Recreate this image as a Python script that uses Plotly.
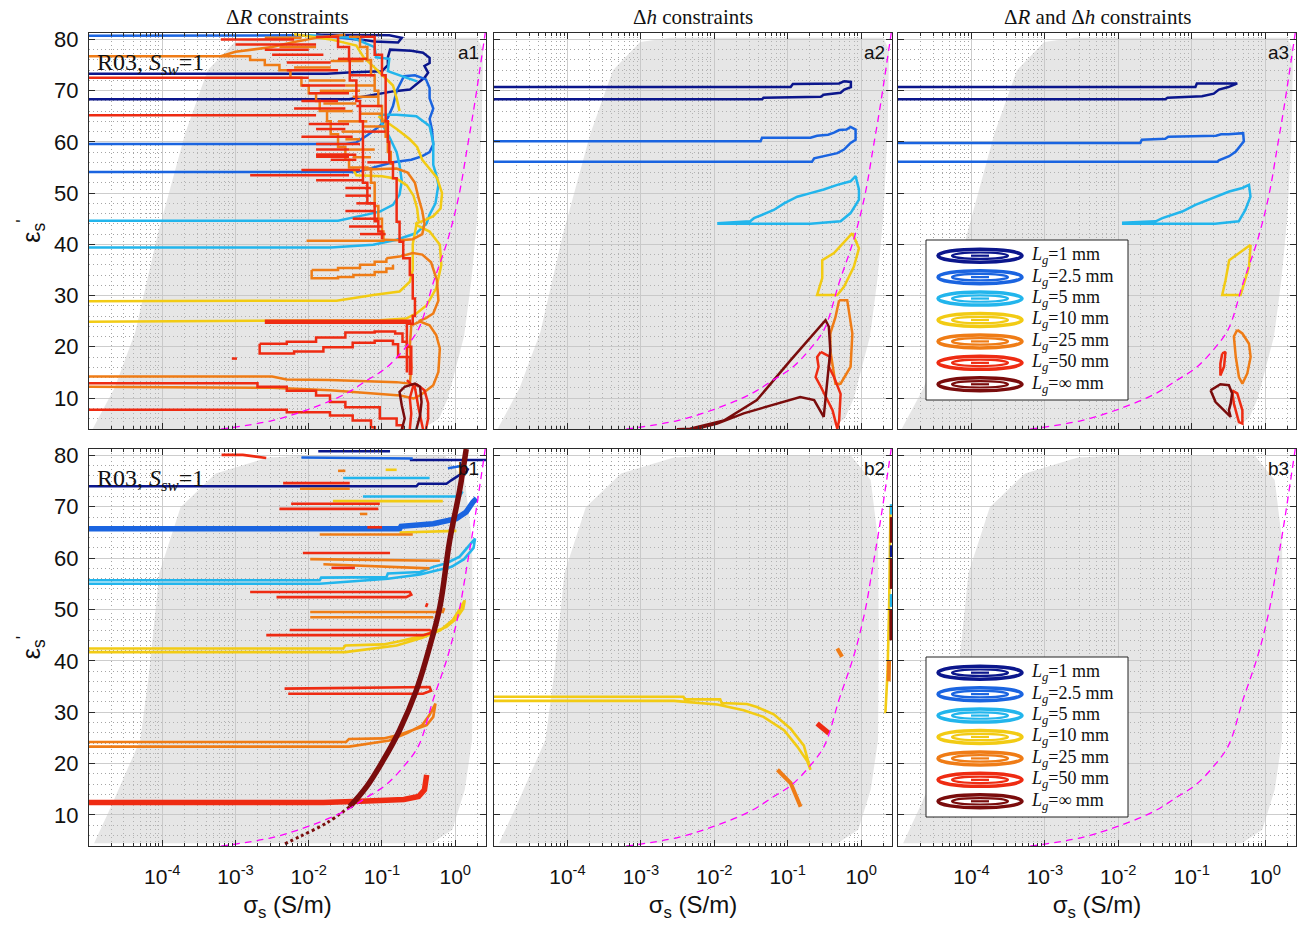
import plotly.graph_objects as go

# ---------------- axes / general values ----------------
X_LOG_RANGE = [-5.0, 0.42]
Y_RANGE = [3.95, 81.25]
XTICK_VALS = [1e-4, 1e-3, 1e-2, 1e-1, 1.0]
XTICK_TEXT = ["10<sup>-4</sup>", "10<sup>-3</sup>", "10<sup>-2</sup>", "10<sup>-1</sup>", "10<sup>0</sup>"]
YTICK_VALS = [10, 20, 30, 40, 50, 60, 70, 80]
COL_TITLES = ["Δ<i>R</i> constraints", "Δ<i>h</i> constraints", "Δ<i>R</i> and Δ<i>h</i> constraints"]
PANEL_TAGS = ["a1", "a2", "a3", "b1", "b2", "b3"]

C_L1 = "#0b168c"
C_L2P5 = "#1a64e0"
C_L5 = "#22b5ec"
C_L10 = "#f2cb14"
C_L25 = "#ef7c16"
C_L50 = "#ee2b12"
C_LINF = "#7a0c0c"
SERIES_COLORS = [C_L1, C_L2P5, C_L5, C_L10, C_L25, C_L50, C_LINF]
LEGEND_LABELS = ["1", "2.5", "5", "10", "25", "50", "∞"]

# ---------------- gray admissible region (log10 sigma, eps) ----------------
GRAY_TOP_LOG = [-4.95, -4.65, -4.37, -4.06, -3.69, -3.38, -3.01, -2.6, 0.30, 0.38, 0.36, 0.30, 0.22, 0.12, 0.01, -0.10, -0.22, -0.45]
GRAY_TOP_EPS = [3.95, 12.0, 22.8, 42.0, 61.5, 74.0, 79.5, 80.3, 80.3, 78.0, 62.0, 45.0, 33.0, 22.0, 16.0, 10.0, 6.0, 3.95]
GRAY_BOT_LOG = [-4.93, -4.70, -4.30, -4.18, -4.04, -3.75, -3.27, -2.55, -2.0, -0.14, 0.13, 0.23, 0.24, 0.23, 0.13, -0.04, -0.32]
GRAY_BOT_EPS = [4.5, 11.6, 24.6, 37.6, 57.1, 69.9, 76.5, 79.6, 80.0, 80.0, 75.2, 63.5, 44.0, 24.6, 14.9, 7.1, 4.5]

# ---------------- magenta dashed curve ----------------
MAGENTA_LOG = [-3.2, -2.5, -2.0, -1.5, -1.2, -0.95, -0.7, -0.5, -0.3, -0.1, 0.05, 0.16, 0.26, 0.35, 0.41]
MAGENTA_EPS = [3.9, 5.6, 7.8, 10.8, 13.5, 15.8, 19.5, 23.5, 32.5, 41.0, 49.5, 58.5, 67.0, 75.5, 81.3]

# ---------------- panel a1 (Delta R) ----------------
A1_L1 = [
    [(-5, 73.3), (-1.75, 73.3), (-1.4, 73.6), (-1.0, 73.8), (-0.92, 75.0), (-0.92, 76.5), (-0.89, 78.0), (-0.6, 77.8),
     (-0.44, 77.4), (-0.35, 76.4), (-0.35, 75.4), (-0.42, 74.8), (-0.37, 73.5), (-0.42, 72.5), (-0.51, 71.5),
     (-0.62, 70.2), (-0.83, 69.9), (-0.94, 69.6), (-1.2, 69.0), (-1.45, 68.3), (-5, 68.3)],
    [(-1.9, 80.9), (-0.9, 80.8), (-0.73, 80.3), (-0.78, 79.4), (-1.1, 79.6), (-1.4, 80.2), (-1.9, 80.9)],
]
A1_L2P5 = [
    [(-5, 80.7), (-3.3, 80.7), (-2.2, 80.8), (-1.6, 80.4), (-1.25, 79.8)],
    [(-5, 59.6), (-1.5, 59.6), (-1.35, 59.9), (-1.2, 61.3), (-1.03, 63.1), (-0.92, 64.7), (-0.85, 67.0), (-0.8, 70.0),
     (-0.7, 72.8), (-0.55, 73.0), (-0.4, 72.2), (-0.35, 70.5), (-0.35, 68.5), (-0.3, 66.5), (-0.35, 64.5),
     (-0.32, 62.5), (-0.30, 59.5), (-0.35, 58.0), (-0.45, 57.2), (-0.6, 56.5), (-0.85, 56.0), (-1.1, 55.0),
     (-1.35, 54.1), (-5, 54.1)],
]
A1_L5 = [
    [(-5, 44.6), (-1.6, 44.6), (-1.21, 45.8), (-1.03, 46.4), (-0.85, 47.7), (-0.76, 49.7), (-0.73, 52.3), (-0.76, 55.5),
     (-0.8, 58.0), (-0.9, 61.0), (-1.0, 63.5), (-1.03, 65.3), (-0.8, 65.3), (-0.53, 65.0), (-0.35, 63.1),
     (-0.30, 59.8), (-0.30, 55.5), (-0.26, 53.6), (-0.23, 51.6), (-0.27, 48.0), (-0.35, 45.8), (-0.39, 44.1),
     (-0.53, 42.2), (-0.80, 40.9), (-1.12, 39.9), (-1.7, 39.4), (-5, 39.4)],
    [(-2.0, 80.8), (-1.4, 80.3), (-1.1, 78.5), (-1.08, 76.5), (-0.9, 76.2), (-0.92, 73.8), (-0.66, 72.5), (-0.52, 71.8)],
]
A1_L10 = [
    [(-5, 24.9), (-1.03, 25.2), (-0.67, 25.5), (-0.53, 26.5), (-0.39, 28.1), (-0.26, 31.4), (-0.19, 36.0), (-0.21, 39.9),
     (-0.35, 42.5), (-0.53, 43.8), (-0.58, 40.0), (-0.58, 35.0), (-0.62, 32.7), (-0.76, 30.8), (-1.12, 30.1),
     (-1.62, 29.0), (-5, 28.9)],
    [(-1.05, 65.0), (-0.8, 62.5), (-0.62, 60.5), (-0.52, 59.0), (-0.45, 56.5), (-0.36, 55.0), (-0.25, 53.0),
     (-0.18, 50.0), (-0.2, 47.0), (-0.3, 45.5), (-0.45, 44.5), (-0.55, 44.0)],
    [(-1.4, 54.8), (-1.35, 53.5), (-1.0, 53.3), (-0.8, 52.8), (-0.66, 51.5), (-0.57, 49.5), (-0.52, 47.0), (-0.5, 44.5)],
    [(-2.2, 81.0), (-1.7, 80.0), (-1.35, 78.8), (-1.25, 76.5), (-1.1, 74.5), (-0.95, 72.5), (-0.85, 71.0),
     (-0.8, 68.5), (-0.76, 66.0)],
]
A1_L25_CURVES = [
    [(-5, 76.7), (-3.2, 76.7), (-3.0, 77.6), (-2.5, 78.5), (-2.2, 79.5), (-1.9, 80.3), (-1.5, 80.9)],
    [(-1.25, 54.6), (-0.8, 54.8), (-0.65, 54.0), (-0.55, 52.0), (-0.5, 49.0), (-0.45, 46.5), (-0.42, 44.0),
     (-0.45, 42.0), (-0.58, 41.0), (-0.75, 40.8), (-0.98, 40.9)],
    [(-0.94, 37.3), (-0.76, 37.6), (-0.58, 38.3), (-0.45, 38.0), (-0.33, 36.5), (-0.25, 33.0), (-0.23, 29.0),
     (-0.30, 26.5), (-0.40, 25.6), (-0.5, 25.0)],
    [(-5, 14.2), (-2.5, 14.2), (-2.3, 13.6), (-1.71, 13.5), (-0.8, 13.1), (-0.62, 12.8), (-0.60, 16.0), (-0.62, 20.0),
     (-0.60, 24.2), (-0.48, 24.9), (-0.35, 24.2), (-0.26, 22.3), (-0.21, 19.7), (-0.23, 15.1), (-0.30, 12.5),
     (-0.48, 10.5), (-0.57, 9.9), (-0.75, 10.5), (-1.71, 11.5), (-2.5, 12.0), (-5, 12.2)],
]
A1_L25_STEPS = [
    [(-3.2, 76.7), (-2.8, 76.0), (-2.6, 75.0), (-2.4, 74.0), (-2.25, 72.5), (-2.1, 71.0), (-2.0, 69.5), (-1.9, 68.0),
     (-1.85, 66.0), (-1.75, 64.0), (-1.7, 61.5), (-1.6, 59.0), (-1.5, 56.5), (-1.45, 55.0), (-1.2, 54.8),
     (-1.15, 52.0), (-1.1, 50.0), (-1.1, 47.5), (-1.05, 45.0), (-1.0, 42.5), (-0.98, 40.9)],
    [(-2.03, 40.7), (-0.98, 40.9)],
    [(-1.96, 35.0), (-1.6, 35.4), (-1.3, 36.0), (-1.1, 36.6), (-0.94, 37.3)],
    [(-1.96, 35.0), (-1.96, 33.4), (-1.6, 33.6), (-1.39, 34.0), (-1.1, 34.6), (-0.94, 35.3), (-0.85, 36.0)],
    [(-1.45, 80.5), (-1.3, 78.5), (-1.2, 76.0), (-1.15, 73.0), (-1.1, 70.0), (-1.05, 67.0), (-1.0, 64.0),
     (-0.95, 61.0), (-0.92, 58.0), (-0.88, 55.5)],
]
A1_L25_STRIPES = [(74.5, -2.2, -1.7), (72.0, -2.0, -1.5), (70.0, -1.85, -1.3), (67.5, -1.8, -1.35), (66.0, -1.75, -1.4),
                  (64.0, -1.6, -1.2), (62.0, -1.55, -1.25), (60.5, -1.5, -1.3), (58.5, -1.45, -1.1), (57.0, -1.4, -1.15),
                  (78.5, -2.4, -1.9), (80.3, -2.6, -2.1), (75.8, -1.7, -1.25), (71.0, -1.5, -1.1), (68.8, -1.4, -1.05),
                  (65.5, -1.3, -1.0), (63.0, -1.25, -0.95)]
A1_L50_STRIPES = [(80.0, -3.2, -2.2), (79.0, -3.0, -1.9), (78.0, -2.6, -2.0), (77.0, -2.5, -1.8), (75.5, -2.3, -1.7),
                  (74.0, -2.3, -1.6), (72.5, -5.0, -2.0), (71.0, -2.1, -1.5), (69.5, -2.0, -1.45), (68.0, -2.1, -1.6),
                  (66.5, -2.2, -1.5), (65.2, -5.0, -1.9), (63.5, -2.0, -1.45), (62.5, -1.9, -1.5), (61.0, -2.1, -1.4),
                  (59.6, -1.9, -1.3), (58.5, -1.9, -1.45), (57.5, -1.9, -1.35), (56.5, -1.7, -1.35), (54.5, -2.1, -1.3),
                  (53.5, -2.8, -1.45), (52.5, -1.9, -1.25), (51.0, -1.5, -1.15), (49.5, -1.5, -1.15), (48.0, -1.35, -1.1),
                  (46.5, -1.5, -1.1), (45.0, -1.4, -1.05), (43.5, -1.45, -1.0), (42.0, -1.3, -0.95),
                  (76.2, -1.6, -1.2), (73.0, -1.45, -1.1), (67.0, -1.35, -1.0), (62.0, -1.25, -0.95), (56.0, -1.2, -0.92)]
A1_L50_STEPS = [
    [(-1.9, 80.5), (-1.6, 78.5), (-1.45, 76.0), (-1.44, 72.0), (-1.35, 68.0), (-1.3, 64.0), (-1.26, 60.0), (-1.26, 56.0),
     (-1.26, 52.0), (-1.2, 48.0), (-1.1, 44.5), (-1.05, 42.5), (-1.0, 41.0)],
    [(-1.3, 80.5), (-1.1, 77.0), (-1.0, 73.0), (-0.95, 68.0), (-0.95, 64.0), (-0.92, 60.0), (-0.9, 56.0), (-0.85, 52.9),
     (-0.80, 49.0), (-0.80, 44.4), (-0.76, 40.5), (-0.71, 37.3), (-0.62, 34.0), (-0.58, 29.4), (-0.55, 26.0),
     (-0.58, 24.5), (-0.66, 24.0), (-0.66, 20.0), (-0.6, 14.5)],
    [(-2.67, 20.6), (-2.3, 21.0), (-1.9, 21.8), (-1.5, 22.8), (-1.1, 23.0), (-0.82, 22.6), (-0.72, 21.0), (-0.66, 18.0),
     (-0.62, 14.5)],
    [(-2.67, 20.6), (-2.67, 18.7), (-2.2, 19.1), (-1.8, 19.9), (-1.4, 20.8), (-1.1, 21.2), (-0.85, 20.5), (-0.78, 18.0),
     (-0.66, 15.0)],
    [(-5, 12.9), (-3.0, 12.9), (-2.7, 12.2), (-2.3, 11.4), (-1.9, 10.5), (-1.71, 9.2), (-1.5, 8.2), (-1.03, 6.0),
     (-0.80, 4.7), (-0.72, 3.9)],
    [(-5, 7.7), (-2.6, 7.7), (-2.3, 7.2), (-1.71, 6.6), (-1.4, 5.6), (-1.15, 4.3), (-1.1, 3.9)],
    [(-3.05, 17.7), (-2.98, 17.7)],
]
A1_L50_THICK = [[(-2.6, 24.9), (-0.6, 24.9)], [(-1.9, 57.3), (-1.45, 57.3)]]
A1_L50_CURVES = [
    [(-0.62, 3.9), (-0.6, 7.0), (-0.62, 10.0), (-0.58, 12.0), (-0.52, 12.6), (-0.42, 11.5), (-0.37, 9.0), (-0.37, 6.0),
     (-0.40, 3.9)],
    [(-0.66, 13.5), (-0.55, 12.0), (-0.50, 8.0), (-0.45, 5.0), (-0.44, 3.9)],
]
A1_LINF = [[(-0.73, 3.9), (-0.69, 6.0), (-0.73, 8.6), (-0.76, 11.2), (-0.69, 12.2), (-0.55, 12.8), (-0.48, 12.2),
            (-0.46, 9.2), (-0.48, 6.6), (-0.53, 3.9)]]

# ---------------- panel a2 (Delta h) ----------------
A2_L1 = [[(-5, 70.7), (-0.96, 70.7), (-0.93, 71.3), (-0.30, 71.4), (-0.23, 71.85), (-0.14, 71.7), (-0.14, 70.7),
          (-0.23, 70.2), (-0.28, 69.6), (-0.51, 69.2), (-0.55, 68.8), (-1.33, 68.6), (-1.35, 68.3), (-5, 68.3)]]
A2_L2P5 = [[(-5, 60.1), (-1.37, 60.1), (-1.35, 60.8), (-0.69, 60.8), (-0.6, 61.2), (-0.45, 61.4), (-0.37, 61.8),
            (-0.3, 62.3), (-0.2, 62.4), (-0.144, 62.9), (-0.076, 62.4), (-0.076, 60.4), (-0.144, 59.8),
            (-0.234, 58.5), (-0.325, 57.8), (-0.51, 57.2), (-0.64, 56.8), (-0.67, 56.1), (-5, 56.1)]]
A2_L5 = [[(-1.96, 44.1), (-1.51, 44.5), (-1.46, 45.1), (-1.19, 46.7), (-1.05, 48.0), (-0.87, 49.3), (-0.69, 50.0),
          (-0.51, 50.7), (-0.325, 51.6), (-0.144, 52.3), (-0.076, 53.3), (-0.03, 50.7), (-0.03, 48.7),
          (-0.144, 46.1), (-0.28, 44.5), (-0.69, 44.0), (-1.96, 44.0)]]
A2_L10 = [[(-0.12, 42.2), (-0.03, 39.2), (-0.10, 35.6), (-0.234, 31.7), (-0.325, 30.1), (-0.60, 30.1), (-0.53, 33.4),
           (-0.53, 36.9), (-0.37, 38.3), (-0.12, 42.2)]]
A2_L25 = [[(-0.30, 29.1), (-0.19, 29.1), (-0.12, 22.6), (-0.144, 16.1), (-0.28, 12.8), (-0.35, 12.8), (-0.42, 19.3),
           (-0.42, 22.6), (-0.35, 25.8), (-0.30, 29.1)]]
A2_L50 = [[(-0.55, 19.0), (-0.42, 18.0), (-0.44, 16.1), (-0.37, 14.1), (-0.28, 10.8), (-0.30, 5.6), (-0.325, 4.0),
           (-0.39, 7.6), (-0.55, 12.2), (-0.62, 14.1), (-0.58, 16.1), (-0.60, 18.0), (-0.55, 19.0)]]
A2_LINF = [[(-2.51, 3.9), (-2.33, 4.0), (-1.87, 5.6), (-1.42, 9.6), (-0.96, 17.4), (-0.485, 25.2), (-0.44, 23.9),
            (-0.42, 19.3), (-0.51, 6.3), (-0.64, 9.6), (-0.83, 10.2), (-1.14, 8.9), (-1.60, 7.0), (-1.96, 5.0),
            (-2.24, 4.0), (-2.51, 3.9)]]

# ---------------- panel a3 (Delta R and Delta h) ----------------
A3_L1 = [[(-5, 70.7), (-0.95, 70.7), (-0.93, 71.4), (-0.38, 71.4), (-0.5, 70.7), (-0.63, 70.2), (-0.70, 69.4),
          (-0.86, 68.9), (-1.33, 68.6), (-1.36, 68.3), (-5, 68.3)]]
A3_L2P5 = [[(-5, 59.8), (-1.70, 59.8), (-1.68, 60.4), (-1.36, 60.6), (-1.32, 61.0), (-0.67, 61.2), (-0.6, 61.5),
            (-0.5, 61.5), (-0.3, 61.7), (-0.29, 60.1), (-0.40, 58.1), (-0.49, 57.2), (-0.63, 56.4), (-0.65, 56.1),
            (-5, 56.1)]]
A3_L5 = [[(-1.95, 44.2), (-1.49, 44.5), (-1.40, 45.1), (-1.13, 46.4), (-0.95, 47.7), (-0.77, 48.7), (-0.68, 49.3),
          (-0.49, 50.3), (-0.31, 51.0), (-0.22, 51.6), (-0.20, 49.3), (-0.27, 46.7), (-0.36, 44.5), (-0.68, 44.0),
          (-1.95, 44.0)]]
A3_L10 = [[(-0.198, 39.9), (-0.22, 35.6), (-0.335, 30.1), (-0.585, 30.1), (-0.54, 33.0), (-0.49, 36.9), (-0.198, 39.9)]]
A3_L25 = [[(-0.38, 23.3), (-0.31, 22.6), (-0.22, 20.6), (-0.198, 18.0), (-0.243, 14.8), (-0.31, 12.8), (-0.357, 14.1),
           (-0.40, 18.0), (-0.426, 22.0), (-0.38, 23.3)]]
A3_L50 = [[(-0.585, 18.7), (-0.54, 19.0), (-0.56, 16.1), (-0.61, 14.4), (-0.61, 16.7), (-0.585, 18.7)],
          [(-0.45, 11.5), (-0.38, 10.9), (-0.31, 7.6), (-0.31, 5.0), (-0.357, 5.3), (-0.426, 8.9), (-0.45, 11.5)]]
A3_LINF = [[(-0.744, 11.5), (-0.61, 12.7), (-0.494, 12.5), (-0.45, 10.9), (-0.47, 8.9), (-0.494, 7.6), (-0.47, 6.3),
            (-0.56, 7.6), (-0.675, 9.2), (-0.744, 11.5)]]

# ---------------- panel b1 ----------------
B1_L1 = [[(-5, 74.0), (-0.53, 74.0), (-0.5, 74.5), (-0.12, 74.5), (-0.05, 75.2), (0.05, 76.1), (0.15, 76.8), (0.18, 77.5)],
         [(-0.62, 79.1), (0.43, 79.1)], [(-1.87, 80.8), (-0.89, 80.8)]]
B1_L2P5_THICK = [[(-5, 65.7), (-0.76, 65.7), (-0.74, 66.2), (-0.30, 66.7), (0.016, 67.7), (0.15, 69.0), (0.24, 70.9), (0.29, 71.6)]]
B1_L2P5 = [[(-2.1, 79.6), (-0.58, 79.4)], [(-0.1, 77.5), (0.1, 78.0)]]
B1_L5 = [[(-5, 55.7), (-1.85, 55.7), (-1.83, 56.2), (-0.94, 56.3), (-0.92, 57.0), (-0.48, 57.3), (-0.30, 58.3),
          (-0.12, 59.0), (0.06, 60.3), (0.20, 62.5), (0.27, 63.8), (0.25, 62.0), (0.12, 59.8), (-0.05, 58.3),
          (-0.30, 57.5), (-0.48, 56.8), (-0.92, 56.0), (-1.85, 55.0), (-5, 55.0)],
         [(-1.53, 75.6), (-0.35, 75.6)], [(-1.26, 72.0), (0.06, 72.0), (0.1, 73.0)]]
B1_L10 = [[(-5, 42.4), (-1.53, 42.4), (-1.5, 43.0), (-0.98, 43.2), (-0.76, 43.8), (-0.53, 44.6), (-0.30, 45.6),
           (-0.12, 46.6), (0.016, 48.2), (0.11, 50.2), (0.13, 51.8), (0.08, 50.5), (-0.03, 48.0), (-0.2, 46.0),
           (-0.45, 44.5), (-0.8, 43.0), (-1.5, 41.7), (-5, 41.7)],
          [(-1.67, 71.1), (-0.17, 71.1)], [(-0.76, 65.0), (0.016, 65.3)], [(-0.95, 77.2), (-0.8, 77.2)]]
B1_L25 = [[(-5, 24.2), (-1.49, 24.2), (-1.45, 24.8), (-0.98, 24.9), (-0.76, 25.6), (-0.58, 26.5), (-0.39, 27.5),
           (-0.30, 29.1), (-0.27, 31.7), (-0.35, 29.5), (-0.45, 27.5), (-0.65, 26.0), (-0.9, 24.5), (-1.45, 23.3),
           (-5, 23.3)],
          [(-1.98, 49.5), (-0.17, 49.5), (-0.15, 50.3)], [(-1.98, 48.5), (-0.3, 48.5)],
          [(-1.98, 59.8), (-0.21, 59.5)], [(-1.8, 58.8), (-0.35, 58.0)], [(-1.85, 64.6), (-0.58, 64.6)],
          [(-2.12, 73.5), (-1.44, 73.5)], [(-1.6, 77.0), (-1.5, 77.0)], [(-1.3, 68.6), (-1.2, 68.6)]]
B1_L50_THICK = [[(-5, 12.4), (-1.8, 12.4), (-1.2, 12.7), (-0.7, 13.0), (-0.5, 13.6), (-0.42, 14.9), (-0.39, 17.8)]]
B1_L50 = [[(-3.19, 80.1), (-2.9, 80.1), (-2.58, 79.5)], [(-2.35, 74.6), (-1.44, 74.6)], [(-2.24, 70.6), (-1.03, 70.6)],
          [(-2.4, 69.6), (-1.05, 69.6)], [(-2.08, 61.0), (-0.89, 61.0)], [(-1.69, 58.1), (-1.37, 58.1)],
          [(-2.80, 53.4), (-0.62, 53.4), (-0.6, 52.9), (-0.67, 52.4), (-2.44, 52.4)],
          [(-2.26, 46.0), (-0.35, 46.0), (-0.3, 45.5), (-0.44, 45.0), (-2.58, 45.0)],
          [(-2.33, 34.6), (-0.35, 34.9), (-0.33, 34.2), (-0.44, 33.6), (-2.28, 33.6)],
          [(-1.2, 66.0), (-1.0, 66.0)], [(-0.4, 50.5), (-0.38, 51.2)]]
B1_LINF_THICK = [[(0.15, 81.25), (0.06, 73.2), (-0.075, 63.5), (-0.21, 50.5), (-0.35, 42.7), (-0.53, 34.3), (-0.76, 26.5),
                  (-0.98, 20.7), (-1.21, 15.5), (-1.44, 11.6)]]
B1_LINF_DOTS = [[(-1.44, 11.6), (-1.76, 8.4), (-2.12, 5.8), (-2.35, 4.2)]]

# ---------------- panel b2 ----------------
B2_L10 = [[(-5, 33.0), (-2.42, 33.0), (-2.40, 32.5), (-1.92, 32.5), (-1.90, 31.8), (-1.555, 31.6), (-1.42, 31.0),
           (-1.19, 29.6), (-0.96, 26.8), (-0.78, 23.5), (-0.69, 18.8), (-0.735, 20.5), (-0.87, 23.3), (-1.05, 26.5),
           (-1.33, 29.1), (-1.60, 30.4), (-1.96, 31.5), (-2.55, 32.2), (-5, 32.2)],
          [(0.33, 29.8), (0.36, 38.0), (0.38, 50.0), (0.39, 62.0), (0.40, 70.0)]]
B2_L25 = [[(-1.14, 18.8), (-0.96, 16.2), (-0.825, 11.6)], [(-0.325, 42.4), (-0.26, 40.8)], [(0.375, 36.0), (0.38, 40.0)]]
B2_L50 = [[(-0.60, 27.8), (-0.44, 25.9)]]
B2_LINF = [[(0.405, 44.0), (0.405, 50.0)], [(0.41, 54.0), (0.41, 60.0)], [(0.41, 63.0), (0.41, 68.0)]]
B2_L5 = [[(0.41, 50.5), (0.41, 53.0)], [(0.41, 68.5), (0.41, 70.5)]]
B2_L1 = [[(0.41, 60.2), (0.41, 62.5)]]


def to_xy(paths):
    xs, ys = [], []
    for p in paths:
        for lx, e in p:
            xs.append(10 ** lx)
            ys.append(e)
        xs.append(None)
        ys.append(None)
    return xs, ys


def stripes_to_paths(stripes):
    return [[(left, e), (right, e)] for e, left, right in stripes]


fig = go.Figure()


def add_paths(idx, paths, color, width=2.5, shape="linear", dash=None):
    xs, ys = to_xy(paths)
    suffix = "" if idx == 1 else str(idx)
    fig.add_trace(go.Scatter(x=xs, y=ys, mode="lines", xaxis="x" + suffix, yaxis="y" + suffix,
                             line=dict(color=color, width=width, shape=shape, dash=dash),
                             hoverinfo="skip", showlegend=False))


for idx in range(1, 7):
    suffix = "" if idx == 1 else str(idx)
    if idx <= 3:
        gl, ge = GRAY_TOP_LOG, GRAY_TOP_EPS
    else:
        gl, ge = GRAY_BOT_LOG, GRAY_BOT_EPS
    fig.add_trace(go.Scatter(x=[10 ** v for v in gl], y=ge, mode="lines", fill="toself",
                             fillcolor="rgba(195,195,195,0.42)", line=dict(width=0),
                             xaxis="x" + suffix, yaxis="y" + suffix, hoverinfo="skip", showlegend=False))

# a1
add_paths(1, A1_L1, C_L1)
add_paths(1, A1_L2P5, C_L2P5)
add_paths(1, A1_L5, C_L5)
add_paths(1, A1_L10, C_L10)
add_paths(1, A1_L25_CURVES, C_L25)
add_paths(1, A1_L25_STEPS, C_L25, shape="hv")
add_paths(1, stripes_to_paths(A1_L25_STRIPES), C_L25)
add_paths(1, stripes_to_paths(A1_L50_STRIPES), C_L50)
add_paths(1, A1_L50_STEPS, C_L50, shape="hv")
add_paths(1, A1_L50_THICK, C_L50, width=4.5)
add_paths(1, A1_L50_CURVES, C_L50)
add_paths(1, A1_LINF, C_LINF)
# a2
add_paths(2, A2_L1, C_L1)
add_paths(2, A2_L2P5, C_L2P5)
add_paths(2, A2_L5, C_L5)
add_paths(2, A2_L10, C_L10)
add_paths(2, A2_L25, C_L25)
add_paths(2, A2_L50, C_L50)
add_paths(2, A2_LINF, C_LINF)
# a3
add_paths(3, A3_L1, C_L1)
add_paths(3, A3_L2P5, C_L2P5)
add_paths(3, A3_L5, C_L5)
add_paths(3, A3_L10, C_L10)
add_paths(3, A3_L25, C_L25)
add_paths(3, A3_L50, C_L50)
add_paths(3, A3_LINF, C_LINF)
# b1
add_paths(4, B1_L1, C_L1)
add_paths(4, B1_L2P5_THICK, C_L2P5, width=5.5)
add_paths(4, B1_L2P5, C_L2P5)
add_paths(4, B1_L5, C_L5, width=2.6)
add_paths(4, B1_L10, C_L10, width=2.6)
add_paths(4, B1_L25, C_L25, width=2.6)
add_paths(4, B1_L50_THICK, C_L50, width=5.5)
add_paths(4, B1_L50, C_L50, width=2.6)
add_paths(4, B1_LINF_THICK, C_LINF, width=5.5, shape="spline")
add_paths(4, B1_LINF_DOTS, C_LINF, width=3, shape="spline", dash="dot")
# b2
add_paths(5, B2_L10, C_L10, width=2.6)
add_paths(5, B2_L25, C_L25, width=4)
add_paths(5, B2_L50, C_L50, width=5)
add_paths(5, B2_LINF, C_LINF, width=3)
add_paths(5, B2_L5, C_L5, width=3)
add_paths(5, B2_L1, C_L1, width=3)

for idx in range(1, 7):
    suffix = "" if idx == 1 else str(idx)
    fig.add_trace(go.Scatter(x=[10 ** v for v in MAGENTA_LOG], y=MAGENTA_EPS, mode="lines",
                             line=dict(color="#ff00ff", width=1.3, dash="7px,5px", shape="spline"),
                             xaxis="x" + suffix, yaxis="y" + suffix, hoverinfo="skip", showlegend=False))

# ---------------- layout (page body margin is removed below, so page px == figure px) ----------------
W, H = 1297, 930
COL_PX = [(89, 486), (494, 892), (898, 1296)]
ROW_PX = [(33, 429), (449, 846)]
ML = COL_PX[0][0]
MR = W - COL_PX[2][1]
MT = ROW_PX[0][0]
MB = H - ROW_PX[1][1]
PW, PH = W - ML - MR, H - MT - MB

minor_x = [k * 10.0 ** d for d in range(-5, 1) for k in range(2, 10)]
AX_LINE = "#2b2b2b"
GRID = "#cdcdcd"
MINOR_GRID = "#a5a5a5"
XTICK_FONT = dict(family="Liberation Sans, Arial", size=21, color="#111")
YTICK_FONT = dict(family="Liberation Sans, Arial", size=22, color="#111")

layout = dict(width=W, height=H, margin=dict(l=ML, r=MR, t=MT, b=MB), plot_bgcolor="white",
              paper_bgcolor="white", showlegend=False)

for idx in range(1, 7):
    r = (idx - 1) // 3
    c = (idx - 1) % 3
    x0, x1 = COL_PX[c]
    y0, y1 = ROW_PX[r]
    dom_x = [(x0 - ML) / PW, (x1 - ML) / PW]
    dom_y = [(H - MB - y1) / PH, (H - MB - y0) / PH]
    suffix = "" if idx == 1 else str(idx)
    xa = dict(type="log", range=X_LOG_RANGE, domain=dom_x, anchor="y" + suffix,
              tickmode="array", tickvals=XTICK_VALS, ticktext=XTICK_TEXT,
              showticklabels=(r == 1), ticks="inside", ticklen=6, tickcolor=AX_LINE,
              mirror="allticks", showline=True, linecolor=AX_LINE, linewidth=1, ticklabelstandoff=12,
              showgrid=True, gridcolor=GRID, gridwidth=1, zeroline=False, tickfont=XTICK_FONT,
              minor=dict(tickmode="array", tickvals=minor_x, ticks="inside", ticklen=3, tickcolor=AX_LINE,
                         showgrid=True, gridcolor=MINOR_GRID, griddash="1px,3px", gridwidth=1))
    if r == 1:
        xa["title"] = dict(text="σ<sub>s</sub> (S/m)", font=dict(family="Liberation Sans, Arial", size=24, color="#111"),
                           standoff=8)
    ya = dict(range=Y_RANGE, domain=dom_y, anchor="x" + suffix, tickmode="array", tickvals=YTICK_VALS,
              showticklabels=(c == 0), ticks="inside", ticklen=6, tickcolor=AX_LINE, ticklabelstandoff=5,
              mirror="allticks", showline=True, linecolor=AX_LINE, linewidth=1,
              showgrid=True, gridcolor=GRID, gridwidth=1, zeroline=False, tickfont=YTICK_FONT,
              minor=dict(dtick=2, tick0=0, ticks="", showgrid=True, gridcolor=MINOR_GRID, griddash="1px,3px", gridwidth=1))
    if c == 0:
        ya["title"] = dict(text="ε<sub>s</sub><sup>'</sup>", font=dict(family="Liberation Sans, Arial", size=25, color="#111"),
                           standoff=6)
    layout["xaxis" + suffix] = xa
    layout["yaxis" + suffix] = ya

fig.update_layout(**layout)

annotations = []
shapes = []
for c, t in enumerate(COL_TITLES):
    cx = ((COL_PX[c][0] + COL_PX[c][1]) / 2 - ML) / PW
    annotations.append(dict(text=t, x=cx, y=1 + (MT - 17) / PH, xref="paper", yref="paper",
                            xanchor="center", yanchor="middle", showarrow=False,
                            font=dict(family="Liberation Serif, Times New Roman", size=21, color="#111")))
for idx in range(1, 7):
    suffix = "" if idx == 1 else str(idx)
    annotations.append(dict(text=PANEL_TAGS[idx - 1], x=0.988, y=0.982, xref="x" + suffix + " domain",
                            yref="y" + suffix + " domain", xanchor="right", yanchor="top", showarrow=False,
                            font=dict(family="Liberation Sans, Arial", size=19, color="#111")))
for idx in (1, 4):
    suffix = "" if idx == 1 else str(idx)
    annotations.append(dict(text="R03, <i>S</i><sub><i>sw</i></sub>=1", x=0.015, y=0.965,
                            xref="x" + suffix + " domain", yref="y" + suffix + " domain",
                            xanchor="left", yanchor="top", showarrow=False,
                            font=dict(family="Liberation Serif, Times New Roman", size=24, color="#111")))

for idx, box_top in ((3, 240), (6, 657)):
    r = (idx - 1) // 3
    y0, y1 = ROW_PX[r]
    x0, x1 = COL_PX[2]
    pw, ph = x1 - x0, y1 - y0
    suffix = str(idx)
    xr, yr = "x" + suffix + " domain", "y" + suffix + " domain"

    def dx(px):
        return (px - x0) / pw

    def dy(py):
        return (y1 - py) / ph

    shapes.append(dict(type="rect", xref=xr, yref=yr, x0=dx(926), x1=dx(1128), y0=dy(box_top + 160),
                       y1=dy(box_top), fillcolor="white", line=dict(color="#222", width=1), layer="above"))
    for i, (col, lab) in enumerate(zip(SERIES_COLORS, LEGEND_LABELS)):
        cy = box_top + 15.7 + 21.43 * i
        cx = 980
        shapes.append(dict(type="circle", xref=xr, yref=yr, x0=dx(cx - 42), x1=dx(cx + 42), y0=dy(cy + 6.5),
                           y1=dy(cy - 6.5), line=dict(color=col, width=3.5), layer="above"))
        shapes.append(dict(type="circle", xref=xr, yref=yr, x0=dx(cx - 28), x1=dx(cx + 28), y0=dy(cy + 3.2),
                           y1=dy(cy - 3.2), line=dict(color=col, width=2.2), layer="above"))
        shapes.append(dict(type="line", xref=xr, yref=yr, x0=dx(cx - 9), x1=dx(cx + 9), y0=dy(cy), y1=dy(cy),
                           line=dict(color=col, width=2.2), layer="above"))
        annotations.append(dict(text="<i>L</i><sub><i>g</i></sub>=" + lab + " mm", x=dx(1029), y=dy(cy),
                                xref=xr, yref=yr, xanchor="left", yanchor="middle", showarrow=False,
                                font=dict(family="Liberation Serif, Times New Roman", size=18, color="#111")))

fig.update_layout(annotations=annotations, shapes=shapes)
fig.write_html("out.html", config={"displayModeBar": False},
               post_script="document.body.style.margin='0px';document.body.style.overflow='hidden';")
